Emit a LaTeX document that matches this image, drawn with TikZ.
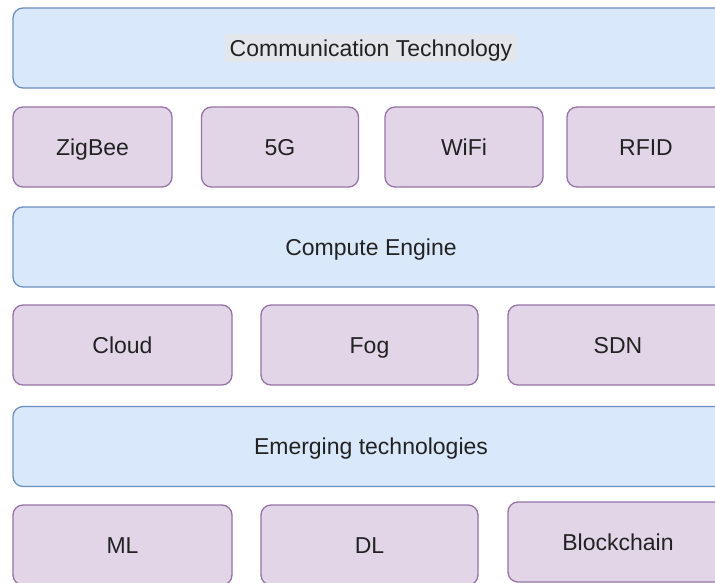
\documentclass[tikz,border=0pt]{standalone}
\usepackage{fontspec}
\setmainfont{Liberation Sans}
\definecolor{bluefill}{HTML}{DAE8FC}
\definecolor{bluedraw}{HTML}{6C8EBF}
\definecolor{purfill}{HTML}{E1D5E7}
\definecolor{purdraw}{HTML}{9673A6}
\definecolor{txt}{HTML}{222222}
\definecolor{hl}{HTML}{E3E7EC}
\tikzset{
  lbl/.style={text=txt, font=\fontsize{23}{26}\selectfont, text height=16.5pt, text depth=0pt},
  base/.style={rounded corners=10pt, line width=1.3pt, minimum height=80pt, inner sep=0pt, lbl},
  layer/.style={base, fill=bluefill, draw=bluedraw, minimum width=716pt},
  item/.style={base, fill=purfill, draw=purdraw},
}
\begin{document}
\begin{tikzpicture}[x=1pt,y=-1pt]
\clip (0,0) rectangle (715,583);
\fill[white] (0,0) rectangle (715,583);
% row 1
\node[layer] (comm) at (371,48) {};
\node[fill=hl, inner sep=0pt, minimum width=292pt, minimum height=28pt, lbl] (commlbl) at (371,48.5) {Communication Technology};
% row 2
\node[item, minimum width=159pt] (zigbee) at (92.5,147) {ZigBee};
\node[item, minimum width=157pt] (fiveg) at (280,147) {5G};
\node[item, minimum width=158pt] (wifi) at (464,147) {WiFi};
\node[item, minimum width=158pt] (rfid) at (646,147) {RFID};
% row 3
\node[layer] (compute) at (371,247) {Compute Engine};
% row 4
\node[item, minimum width=219pt] (cloud) at (122.5,345) {Cloud};
\node[item, minimum width=217pt] (fog) at (369.5,345) {Fog};
\node[item, minimum width=220pt] (sdn) at (618,345) {SDN};
% row 5
\node[layer] (emerging) at (371,446.5) {Emerging technologies};
% row 6
\node[item, minimum width=219pt] (ml) at (122.5,545) {ML};
\node[item, minimum width=217pt] (dl) at (369.5,545) {DL};
\node[item, minimum width=220pt] (block) at (618,542) {Blockchain};
\end{tikzpicture}
\end{document}
